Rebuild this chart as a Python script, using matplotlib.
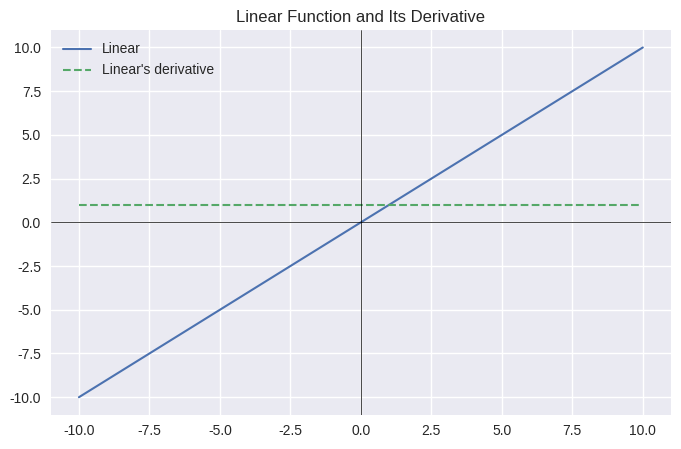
import matplotlib
matplotlib.use("Agg")
import matplotlib.pyplot as plt
import numpy as np

plt.style.use("seaborn-v0_8")
plt.rcParams["font.family"] = ["Liberation Sans", "DejaVu Sans"]
plt.rcParams["axes.unicode_minus"] = False

# Data
linear_x = [-10.0, 10.0]
linear_y = [-10.0, 10.0]
deriv_x = [-10.0, 9.9]
deriv_y = [1.0, 1.0]
tick_vals = [-10.0, -7.5, -5.0, -2.5, 0.0, 2.5, 5.0, 7.5, 10.0]
title = "Linear Function and Its Derivative"
labels = ["Linear", "Linear's derivative"]

fig = plt.figure(figsize=(6.81, 4.49), dpi=100)
ax = fig.add_axes([0.0745, 0.0764, 0.9108, 0.8568])

ax.plot(linear_x, linear_y, color="#4C72B0", linewidth=1.5, label=labels[0])
ax.plot(deriv_x, deriv_y, color="#55A868", linewidth=1.5, linestyle="--", label=labels[1])
ax.axhline(0, color="black", linewidth=0.5)
ax.axvline(0, color="black", linewidth=0.5)

ax.set_xlim(-11, 11)
ax.set_ylim(-11, 11)
ax.set_xticks(tick_vals)
ax.set_yticks(tick_vals)
ax.set_xticklabels([f"{v:.1f}" for v in tick_vals])
ax.set_yticklabels([f"{v:.1f}" for v in tick_vals])
ax.tick_params(labelsize=10, colors="#262626")
ax.set_title(title, fontsize=12, color="#262626")
ax.legend(loc="upper left", fontsize=10, frameon=False)

fig.savefig("out.png", dpi=100)
